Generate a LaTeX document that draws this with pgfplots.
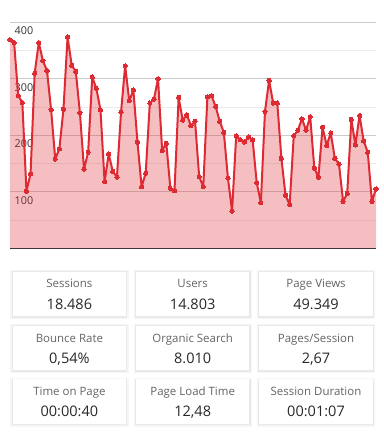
\documentclass[border=0pt]{standalone}
\usepackage{pgfplots}
\pgfplotsset{compat=1.18}
\usepackage{fontspec}
\setmainfont{Open Sans}
\definecolor{lc}{RGB}{222,42,50}
\definecolor{labelc}{RGB}{100,100,100}
\definecolor{valc}{RGB}{40,40,40}
\definecolor{majg}{RGB}{204,204,204}
\definecolor{ming}{RGB}{235,235,235}
\definecolor{tickc}{RGB}{51,51,51}
\pgfplotstableread{
x y
1 369
2 364
3 270
4 258
5 101
6 132
7 310
8 364
9 332
10 314
11 245
12 158
13 176
14 246
15 374
16 324
17 313
18 240
19 140
20 170
21 303
22 283
23 245
24 118
25 167
26 136
27 126
28 241
29 323
30 261
31 280
32 188
33 109
34 133
35 257
36 264
37 300
38 173
39 186
40 106
41 102
42 267
43 227
44 236
45 217
46 225
47 127
48 109
49 268
50 270
51 251
52 225
53 205
54 124
55 66
56 199
57 192
58 188
59 197
60 192
61 116
62 81
63 242
64 297
65 257
66 257
67 159
68 94
69 77
70 199
71 209
72 229
73 209
74 233
75 142
76 126
77 214
78 182
79 204
80 159
81 149
82 83
83 97
84 228
85 183
86 235
87 190
88 170
89 83
90 105
}\sessions
\newcommand{\card}[4]{%
  \fill[black,opacity=0.035] (#1-2.5,#2-1.5) rectangle (#1+115.9,#2+47.3);
  \fill[black,opacity=0.05] (#1-1.2,#2-0.6) rectangle (#1+114.6,#2+45.9);
  \fill[white] (#1,#2) rectangle (#1+113.4,#2+44.3);
  \node[anchor=base,inner sep=0pt,text=labelc,font=\fontsize{8.6}{10}\selectfont] at (#1+56.7,#2+16.3) {#3};
  \node[anchor=base,inner sep=0pt,text=valc,font=\fontsize{10.9}{13}\selectfont] at (#1+56.7,#2+37.6) {#4};
}
\begin{document}
\begin{tikzpicture}
\useasboundingbox (0,0) rectangle (287.25pt,330pt);
\begin{axis}[
  at={(7.5pt,143.775pt)}, anchor=south west,
  width=274.5pt, height=169.5pt, scale only axis,
  xmin=1, xmax=90, ymin=0, ymax=400,
  axis x line*=bottom, axis y line*=left,
  x axis line style={draw=black!80, line width=0.8pt},
  y axis line style={draw=none},
  xtick=\empty,
  ytick={100,200,300,400},
  minor ytick={50,150,250,350},
  ymajorgrids, yminorgrids,
  major grid style={draw=majg, line width=0.75pt},
  minor grid style={draw=ming, line width=0.75pt},
  major tick length=0pt, minor tick length=0pt,
  yticklabel style={anchor=north west, text=tickc, font=\fontsize{8.1}{9}\selectfont},
  /pgf/number format/assume math mode=true,
  clip=false,
]
\addplot[draw=none, fill=lc, fill opacity=0.3] table[x=x,y=y] {\sessions} \closedcycle;
\addplot[draw=lc, line width=1.5pt, line join=round, mark=*, mark size=1.6pt, mark options={fill=lc, draw=lc, line width=0pt}] table[x=x,y=y] {\sessions};
\end{axis}
\begin{scope}[x=0.75pt, y=-0.75pt, yshift=330pt]
\card{12.7}{271.7}{Sessions}{18.486}
\card{136}{271.7}{Users}{14.803}
\card{259.3}{271.7}{Page Views}{49.349}
\card{12.7}{325.7}{Bounce Rate}{0,54\%}
\card{136}{325.7}{Organic Search}{8.010}
\card{259.3}{325.7}{Pages/Session}{2,67}
\card{12.7}{379.3}{Time on Page}{00:00:40}
\card{136}{379.3}{Page Load Time}{12,48}
\card{259.3}{379.3}{Session Duration}{00:01:07}
\end{scope}
\end{tikzpicture}
\end{document}
